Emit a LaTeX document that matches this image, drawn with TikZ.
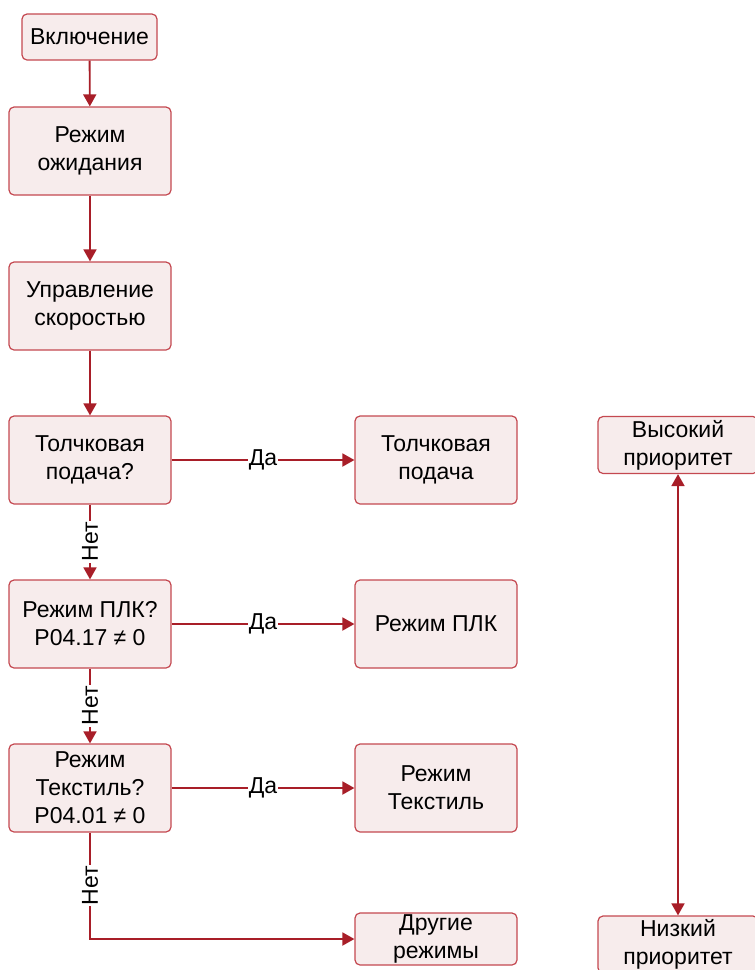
\documentclass[tikz,border=0pt]{standalone}
\usepackage{fontspec}
\setmainfont{Liberation Sans}
\usetikzlibrary{arrows.meta}
\definecolor{boxline}{RGB}{196,72,80}
\definecolor{boxfill}{RGB}{247,236,236}
\definecolor{arrowc}{RGB}{168,30,40}
\tikzset{
  flowbox/.style={draw=boxline, fill=boxfill, line width=1.2pt, rounded corners=5pt,
    align=center, font=\fontsize{23}{28}\selectfont, inner sep=0pt},
  conn/.style={draw=arrowc, line width=1.8pt, -{Triangle[length=12pt,width=13pt]}},
  lbl/.style={fill=white, inner sep=1pt, font=\fontsize{23}{26}\selectfont, text=black}
}
\begin{document}
\begin{tikzpicture}[x=1pt,y=-1pt]
\useasboundingbox (0,0) rectangle (755,970);
\node[flowbox, minimum width=135pt, minimum height=46pt] (b1) at (89.5,37) {Включение};
\node[flowbox, minimum width=162pt, minimum height=88pt] (b2) at (90,151) {Режим\\ожидания};
\node[flowbox, minimum width=162pt, minimum height=88pt] (b3) at (90,306) {Управление\\скоростью};
\node[flowbox, minimum width=162pt, minimum height=88pt] (b4) at (90,460) {Толчковая\\подача?};
\node[flowbox, minimum width=162pt, minimum height=88pt] (b5) at (90,624) {Режим ПЛК?\\P04.17 ≠ 0};
\node[flowbox, minimum width=162pt, minimum height=88pt] (b6) at (90,788) {Режим\\Текстиль?\\P04.01 ≠ 0};
\node[flowbox, minimum width=162pt, minimum height=88pt] (r4) at (436,460) {Толчковая\\подача};
\node[flowbox, minimum width=162pt, minimum height=88pt] (r5) at (436,624) {Режим ПЛК};
\node[flowbox, minimum width=162pt, minimum height=88pt] (r6) at (436,788) {Режим\\Текстиль};
\node[flowbox, minimum width=162pt, minimum height=52pt] (r7) at (436,939) {Другие\\режимы};
\node[flowbox, minimum width=160pt, minimum height=57pt] (hi) at (678,445) {Высокий\\приоритет};
\node[flowbox, minimum width=160pt, minimum height=57pt] (lo) at (678,944.5) {Низкий\\приоритет};

\draw[conn] (b1) -- (b2);
\draw[conn] (b2) -- (b3);
\draw[conn] (b3) -- (b4);
\draw[conn] (b4) -- node[lbl, rotate=90] {Нет} (b5);
\draw[conn] (b5) -- node[lbl, rotate=90] {Нет} (b6);
\draw[conn] (b6) |- node[lbl, rotate=90, pos=0.25] {Нет} (r7);
\draw[conn] (b4) -- node[lbl] {Да} (r4);
\draw[conn] (b5) -- node[lbl] {Да} (r5);
\draw[conn] (b6) -- node[lbl] {Да} (r6);
\draw[conn, {Triangle[length=12pt,width=13pt]}-{Triangle[length=12pt,width=13pt]}] (hi) -- (lo);
\end{tikzpicture}
\end{document}
